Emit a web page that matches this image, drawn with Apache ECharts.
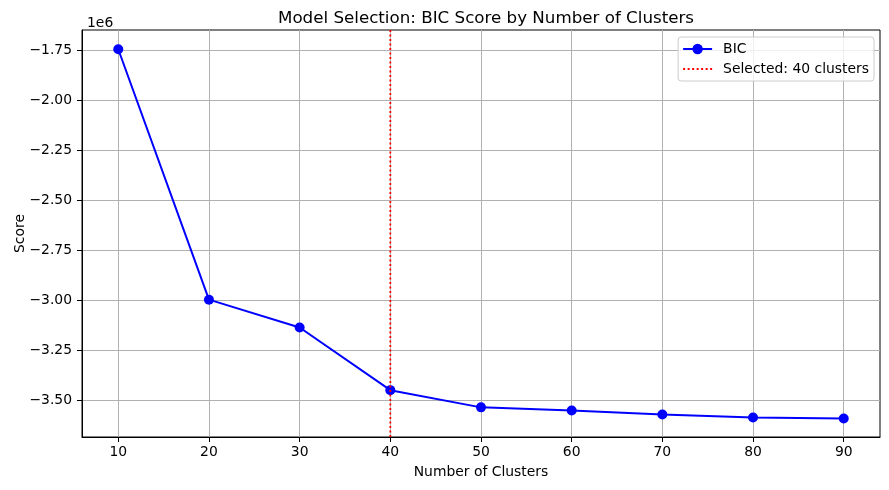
<!DOCTYPE html>
<html>
<head>
<meta charset="utf-8">
<script src="https://cdn.jsdelivr.net/npm/echarts@6/dist/echarts.min.js"></script>
<style>
html,body{margin:0;padding:0;background:#fff;}
#chart{width:889px;height:490px;}
</style>
</head>
<body>
<div id="chart"></div>
<script>
const clusters = [10, 20, 30, 40, 50, 60, 70, 80, 90];
const bicScores = [-1746000, -2997000, -3136000, -3449000, -3535000, -3551000, -3571000, -3586000, -3591000];
const selectedClusters = 40;
const xTicks = [10, 20, 30, 40, 50, 60, 70, 80, 90];
const yTicks = [-3500000, -3250000, -3000000, -2750000, -2500000, -2250000, -2000000, -1750000];
const yMin = -3683000, yMax = -1650000;
const xMin = 6, xMax = 94;

const font = 'DejaVu Sans';
const selName = 'Selected: ' + selectedClusters + ' clusters';
const chart = echarts.init(document.getElementById('chart'), null, {renderer: 'canvas'});
chart.setOption({
  animation: false,
  backgroundColor: '#fff',
  textStyle: {fontFamily: font},
  title: [
    {text: 'Model Selection: BIC Score by Number of Clusters', left: 481, textAlign: 'center', top: 5,
     textStyle: {fontFamily: font, fontSize: 16.7, fontWeight: 'normal', color: '#000'}},
    {text: '1e6', left: 82, top: 11,
     textStyle: {fontFamily: font, fontSize: 13.9, fontWeight: 'normal', color: '#000'}}
  ],
  grid: {left: 82, right: 9, top: 30, bottom: 53, containLabel: false, outerBoundsMode: 'none',
    show: true, borderColor: '#000', borderWidth: 1, backgroundColor: 'transparent'},
  legend: {
    orient: 'vertical', right: 15, top: 37,
    backgroundColor: 'rgba(255,255,255,0.8)', borderColor: '#cccccc', borderWidth: 1, borderRadius: 3,
    padding: [5, 5, 5, 4], itemGap: 6, itemWidth: 29, itemHeight: 13,
    textStyle: {fontFamily: font, fontSize: 13.9, color: '#000', padding: [0, 0, 0, 6]},
    data: ['BIC', {name: selName, itemStyle: {color: 'rgba(0,0,0,0)', borderWidth: 0}}]
  },
  xAxis: {
    type: 'value', min: xMin, max: xMax,
    name: 'Number of Clusters', nameLocation: 'middle', nameGap: 28, nameMoveOverlap: false,
    nameTextStyle: {fontFamily: font, fontSize: 13.9, color: '#000'},
    axisLine: {show: true, lineStyle: {color: '#000', width: 1}},
    axisTick: {show: true, length: 5, lineStyle: {color: '#000'}, customValues: xTicks},
    axisLabel: {fontFamily: font, fontSize: 13.9, color: '#000', margin: 8, customValues: xTicks},
    splitLine: {show: true, lineStyle: {color: '#b0b0b0', width: 1}}
  },
  yAxis: {
    type: 'value', min: yMin, max: yMax,
    name: 'Score', nameLocation: 'middle', nameGap: 55, nameMoveOverlap: false,
    nameTextStyle: {fontFamily: font, fontSize: 13.9, color: '#000'},
    axisLine: {show: true, lineStyle: {color: '#000', width: 1}},
    axisTick: {show: true, length: 5, lineStyle: {color: '#000'}, customValues: yTicks},
    axisLabel: {fontFamily: font, fontSize: 13.9, color: '#000', margin: 10, customValues: yTicks,
      formatter: v => (v / 1e6).toFixed(2).replace('-', '\u2212')},
    splitLine: {show: true, lineStyle: {color: '#b0b0b0', width: 1}}
  },
  series: [
    {
      name: 'BIC', type: 'line',
      data: clusters.map((c, i) => [c, bicScores[i]]),
      symbol: 'circle', symbolSize: 10, showSymbol: true,
      lineStyle: {color: '#0000ff', width: 2},
      itemStyle: {color: '#0000ff'},
      z: 3
    },
    {
      name: selName, type: 'line',
      data: [[selectedClusters, yMin], [selectedClusters, yMax]],
      symbol: 'none',
      lineStyle: {color: '#ff0000', width: 1.8, type: [2, 2.5]},
      itemStyle: {color: '#ff0000'},
      z: 4
    }
  ]
});
</script>
</body>
</html>
